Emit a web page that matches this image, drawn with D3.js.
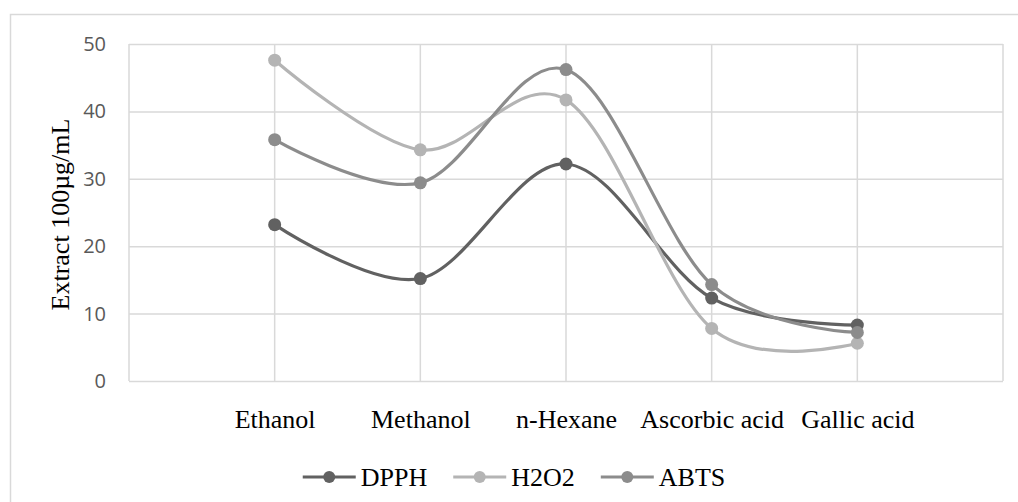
<!DOCTYPE html>
<html>
<head>
<meta charset="utf-8">
<script src="https://cdn.jsdelivr.net/npm/d3@7"></script>
<style>
	body { margin: 0; background: #fff; }
	svg { display: block; }
</style>
</head>
<body>
<svg id="chart" width="1018" height="502"></svg>
<script>
const categories = [ 'Ethanol', 'Methanol', 'n-Hexane', 'Ascorbic acid', 'Gallic acid' ];
const seriesNames = [ 'DPPH', 'H2O2', 'ABTS' ];
const dpph = [ 23.2, 15.2, 32.2, 12.3, 8.3 ];
const h2o2 = [ 47.6, 34.3, 41.7, 7.8, 5.6 ];
const abts = [ 35.8, 29.4, 46.2, 14.3, 7.2 ];
const yTicks = [ 0, 10, 20, 30, 40, 50 ];
const yLabel = 'Extract 100µg/mL';

const colors = { DPPH: '#616161', H2O2: '#b4b4b4', ABTS: '#8c8c8c' };
const series = [
	{ name: seriesNames[0], values: dpph },
	{ name: seriesNames[1], values: h2o2 },
	{ name: seriesNames[2], values: abts }
];

let margin = { top: 44, left: 129, right: 15, bottom: 121 };
let svg = d3.select('#chart');
let width = 1018 - margin.left - margin.right;
let height = 502 - margin.top - margin.bottom;

// outer chart border
svg.append('rect')
	.attr('x', 10.5).attr('y', 14.5)
	.attr('width', 1040).attr('height', 520)
	.style('fill', 'none')
	.style('stroke', '#d9d9d9')
	.style('stroke-width', 1.5);

let g = svg.append('g')
	.attr('transform', 'translate(' + margin.left + ',' + margin.top + ')');

let xScale = d3.scalePoint()
	.domain(categories)
	.range([ 0, width ])
	.padding(1);
let yScale = d3.scaleLinear()
	.domain([ 0, 50 ])
	.range([ height, 0 ]);

// vertical gridlines (edges + every category)
let step = xScale.step();
g.selectAll('.vgrid')
	.data(d3.range(categories.length + 2))
	.enter().append('line')
	.attr('class', 'vgrid')
	.attr('x1', d => d * step).attr('x2', d => d * step)
	.attr('y1', 0).attr('y2', height)
	.style('stroke', '#d9d9d9')
	.style('stroke-width', 1.5);

// y axis with horizontal gridlines
let yAxis = g.append('g')
	.call(d3.axisLeft(yScale).tickValues(yTicks).tickSize(-width).tickPadding(23));
yAxis.select('.domain').remove();
yAxis.selectAll('line')
	.style('stroke', '#d9d9d9')
	.style('stroke-width', 1.5);
yAxis.selectAll('text')
	.style('font-family', '"Open Sans", sans-serif')
	.style('font-size', '20px')
	.style('fill', '#595959');

// x axis labels
let xAxis = g.append('g')
	.attr('transform', 'translate(0,' + height + ')')
	.call(d3.axisBottom(xScale).tickSize(0));
xAxis.select('.domain').remove();
xAxis.selectAll('text')
	.attr('y', 47)
	.attr('dy', null)
	.style('font-family', '"Liberation Serif", "Times New Roman", serif')
	.style('font-size', '26px')
	.style('fill', '#000');

// y label
g.append('text')
	.attr('transform', 'rotate(-90)')
	.attr('x', -height / 2 - 2)
	.attr('y', 69 - margin.left)
	.style('text-anchor', 'middle')
	.style('font-family', '"Liberation Serif", "Times New Roman", serif')
	.style('font-size', '26px')
	.style('fill', '#000')
	.text(yLabel);

// lines and markers
let line = d3.line()
	.x((d, i) => xScale(categories[i]))
	.y(d => yScale(d))
	.curve(d3.curveCardinal);

series.forEach(function(s) {
	g.append('path')
		.datum(s.values)
		.attr('d', line)
		.style('fill', 'none')
		.style('stroke', colors[s.name])
		.style('stroke-width', 3.2);
	g.selectAll('.dot-' + s.name)
		.data(s.values)
		.enter().append('circle')
		.attr('class', 'dot-' + s.name)
		.attr('cx', (d, i) => xScale(categories[i]))
		.attr('cy', d => yScale(d))
		.attr('r', 6.5)
		.style('fill', colors[s.name]);
});

// legend
let legend = svg.append('g');
let legendY = 477;
let x = 0;
series.forEach(function(s, i) {
	let item = legend.append('g').attr('transform', 'translate(' + x + ',' + legendY + ')');
	item.append('line')
		.attr('x1', 0).attr('x2', 53)
		.attr('y1', 0).attr('y2', 0)
		.style('stroke', colors[s.name])
		.style('stroke-width', 3.2);
	item.append('circle')
		.attr('cx', 26.5).attr('cy', 0).attr('r', 6)
		.style('fill', colors[s.name]);
	let t = item.append('text')
		.attr('x', 58).attr('y', 9)
		.style('font-family', '"Liberation Serif", "Times New Roman", serif')
		.style('font-size', '26px')
		.style('fill', '#000')
		.text(s.name);
	x += 58 + t.node().getComputedTextLength() + 26;
});
let legendWidth = x - 26;
legend.attr('transform', 'translate(' + (514 - legendWidth / 2) + ',0)');
</script>
</body>
</html>
